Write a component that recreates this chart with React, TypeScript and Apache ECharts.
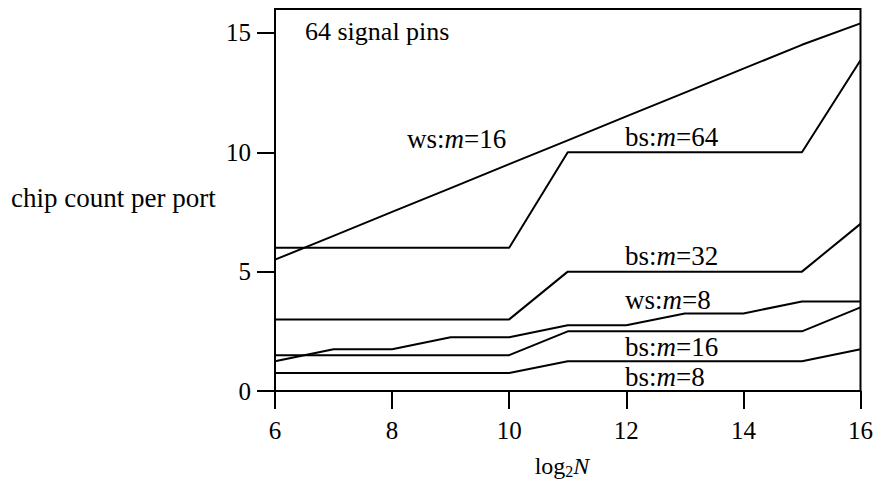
import React, { useEffect, useRef } from "react";
import * as echarts from "echarts";

const xValues = [6, 7, 8, 9, 10, 11, 12, 13, 14, 15, 16];
const wsM16 = [5.5, 6.5, 7.5, 8.5, 9.5, 10.5, 11.5, 12.5, 13.5, 14.5, 15.4];
const bsM64 = [6, 6, 6, 6, 6, 10, 10, 10, 10, 10, 13.85];
const bsM32 = [3, 3, 3, 3, 3, 5, 5, 5, 5, 5, 7];
const wsM8 = [1.25, 1.75, 1.75, 2.25, 2.25, 2.75, 2.75, 3.25, 3.25, 3.75, 3.75];
const bsM16 = [1.5, 1.5, 1.5, 1.5, 1.5, 2.5, 2.5, 2.5, 2.5, 2.5, 3.5];
const bsM8 = [0.75, 0.75, 0.75, 0.75, 0.75, 1.25, 1.25, 1.25, 1.25, 1.25, 1.75];
const yTicks = [0, 5, 10, 15];

const seriesDefs = [
  { name: "ws:m=16", data: wsM16 },
  { name: "bs:m=64", data: bsM64 },
  { name: "bs:m=32", data: bsM32 },
  { name: "ws:m=8", data: wsM8 },
  { name: "bs:m=16", data: bsM16 },
  { name: "bs:m=8", data: bsM8 },
];

const curveLabels = [
  { pre: "ws:", post: "=16", x: 407, y: 139 },
  { pre: "bs:", post: "=64", x: 625, y: 137 },
  { pre: "bs:", post: "=32", x: 625, y: 256 },
  { pre: "ws:", post: "=8", x: 625, y: 300 },
  { pre: "bs:", post: "=16", x: 625, y: 347 },
  { pre: "bs:", post: "=8", x: 625, y: 377 },
];

const FONT = "'Liberation Serif', 'Times New Roman', serif";

export default function App() {
  const ref = useRef<HTMLDivElement>(null);
  useEffect(() => {
    if (!ref.current) return;
    const chart = echarts.init(ref.current, undefined, { renderer: "svg" });
    const richBase = {
      a: { fontFamily: FONT, fontSize: 27, fill: "#000" },
      i: { fontFamily: FONT, fontSize: 27, fontStyle: "italic", fill: "#000" },
    };
    const graphic: any[] = curveLabels.map((l) => ({
      type: "text",
      x: l.x,
      y: l.y,
      style: {
        text: `{a|${l.pre}}{i|m}{a|${l.post}}`,
        rich: richBase,
        verticalAlign: "middle",
        align: "left",
        fill: "#000",
      },
    }));
    graphic.push({
      type: "text",
      x: 305,
      y: 31,
      style: {
        text: "64 signal pins",
        fontFamily: FONT,
        fontSize: 26,
        fill: "#000",
        verticalAlign: "middle",
      },
    });
    graphic.push({
      type: "text",
      x: 11,
      y: 198,
      style: {
        text: "chip count per port",
        fontFamily: FONT,
        fontSize: 27,
        fill: "#000",
        verticalAlign: "middle",
      },
    });
    graphic.push({
      type: "text",
      x: 562,
      y: 466,
      style: {
        text: "{a|log}{s|2}{i|N}",
        rich: {
          a: { fontFamily: FONT, fontSize: 24, fill: "#000" },
          s: { fontFamily: FONT, fontSize: 16, fill: "#000", padding: [10, 0, 0, 0] },
          i: { fontFamily: FONT, fontSize: 24, fontStyle: "italic", fill: "#000" },
        },
        align: "center",
        verticalAlign: "middle",
      },
    });

    chart.setOption({
      animation: false,
      backgroundColor: "#fff",
      grid: {
        left: 275,
        right: 15,
        top: 9,
        bottom: 91,
        show: true,
        borderColor: "#000",
        borderWidth: 2,
        backgroundColor: "transparent",
      },
      xAxis: {
        type: "value",
        min: 6,
        max: 16,
        interval: 2,
        axisLine: { show: true, lineStyle: { color: "#000", width: 2 } },
        axisTick: { show: true, inside: false, length: 18, lineStyle: { color: "#000", width: 2 } },
        axisLabel: { color: "#000", fontFamily: FONT, fontSize: 25, margin: 27 },
        splitLine: { show: false },
      },
      yAxis: {
        type: "value",
        min: 0,
        max: 16,
        interval: 5,
        axisLine: { show: true, lineStyle: { color: "#000", width: 2 } },
        axisTick: {
          show: true,
          inside: false,
          length: 18,
          customValues: yTicks,
          lineStyle: { color: "#000", width: 2 },
        },
        axisLabel: {
          color: "#000",
          fontFamily: FONT,
          fontSize: 25,
          margin: 24,
          customValues: yTicks,
        },
        splitLine: { show: false },
      },
      graphic,
      series: seriesDefs.map((s) => ({
        name: s.name,
        type: "line",
        data: xValues.map((x, i) => [x, s.data[i]]),
        symbol: "none",
        lineStyle: { color: "#000", width: 2 },
      })),
    });
    return () => chart.dispose();
  }, []);
  return (
    <div
      ref={ref}
      style={{ position: "absolute", left: 0, top: 0, width: 876, height: 482, background: "#fff" }}
    />
  );
}
